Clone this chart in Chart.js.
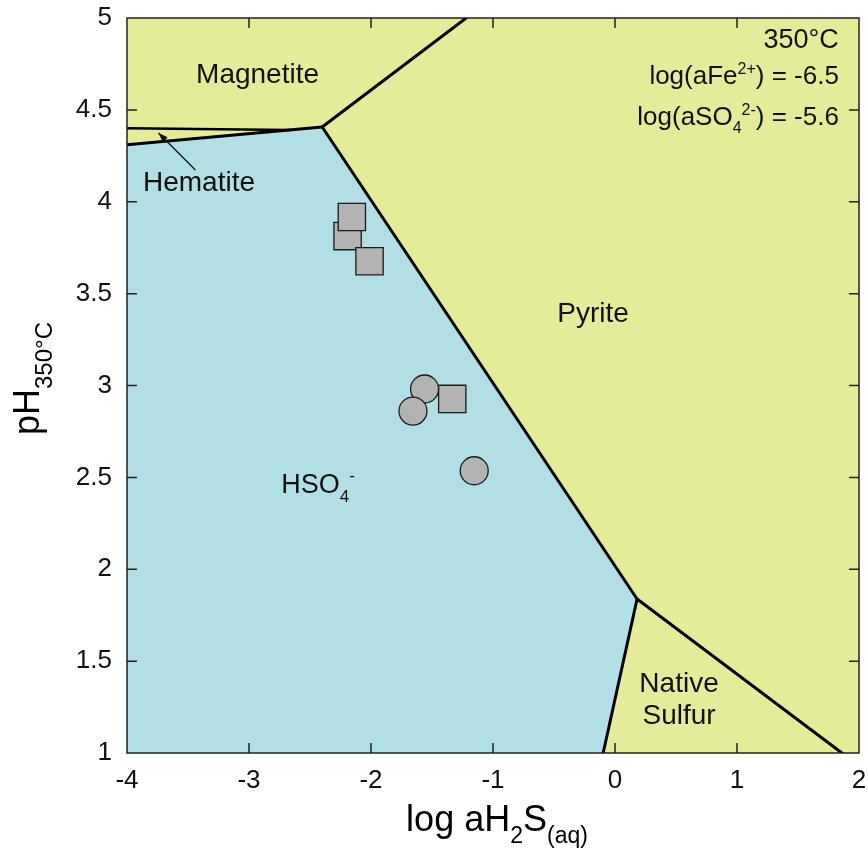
<!DOCTYPE html>
<html>
<head>
<meta charset="utf-8">
<title>Fe-S-O phase diagram, 350°C</title>
<script src="https://cdn.jsdelivr.net/npm/chart.js@4.4.1/dist/chart.umd.min.js"></script>
<style>
  html, body { margin: 0; padding: 0; background: #fff; overflow: hidden; }
  canvas { display: block; }
</style>
</head>
<body>
<canvas id="chart" width="868" height="848"></canvas>
<script>
// axis ranges and ticks
const xTicks = [-4, -3, -2, -1, 0, 1, 2];
const yTicks = [1, 1.5, 2, 2.5, 3, 3.5, 4, 4.5, 5];

// phase boundaries [log aH2S, pH]
const magnetitePyrite   = [[-1.22, 5], [-2.40, 4.407]];
const magnetiteHematite = [[-4, 4.40], [-2.66, 4.391]];
const hematiteHso4      = [[-4, 4.31], [-2.40, 4.407]];
const pyriteHso4        = [[-2.40, 4.407], [0.181, 1.838]];
const sulfurHso4        = [[0.181, 1.838], [-0.097, 1]];
const sulfurPyrite      = [[0.181, 1.838], [1.86, 1]];

// HSO4- stability field
const hso4Field = [[-4, 4.31], [-2.40, 4.407], [0.181, 1.838], [-0.097, 1], [-4, 1]];

// measured fluids
const squareX = [-2.192, -2.157, -2.012, -1.334];
const squareY = [3.813, 3.917, 3.676, 2.927];
const circleX = [-1.561, -1.656, -1.154];
const circleY = [2.981, 2.861, 2.536];

const FONT = '"Liberation Sans", Arial, Helvetica, sans-serif';
const YELLOW = '#e4ec9a';
const BLUE = '#b2dfe6';

const toPts = arr => arr.map(p => ({ x: p[0], y: p[1] }));
const zip = (xs, ys) => xs.map((x, i) => ({ x: x, y: ys[i] }));

function boundary(pts, width) {
  return {
    type: 'line', data: toPts(pts), showLine: true, fill: false,
    borderColor: '#000', borderWidth: width || 3, pointRadius: 0,
    borderCapStyle: 'round', order: 5
  };
}

// draw text made of runs with different sizes / vertical offsets
function drawRuns(ctx, runs, x, y, align) {
  let total = 0;
  runs.forEach(r => {
    ctx.font = r.size + 'px ' + FONT;
    r.w = ctx.measureText(r.t).width;
    total += r.w;
  });
  let cx = align === 'right' ? x - total : align === 'center' ? x - total / 2 : x;
  ctx.textAlign = 'left';
  ctx.textBaseline = 'alphabetic';
  runs.forEach(r => {
    ctx.font = r.size + 'px ' + FONT;
    ctx.fillText(r.t, cx, y + (r.dy || 0));
    cx += r.w;
  });
}

const fieldPlugin = {
  id: 'fields',
  beforeDatasetsDraw(chart) {
    const { ctx, chartArea: a, scales: { x, y } } = chart;
    ctx.save();
    ctx.fillStyle = YELLOW;
    ctx.fillRect(a.left, a.top, a.right - a.left, a.bottom - a.top);
    ctx.beginPath();
    hso4Field.forEach((p, i) => {
      const px = x.getPixelForValue(p[0]), py = y.getPixelForValue(p[1]);
      if (i === 0) ctx.moveTo(px, py); else ctx.lineTo(px, py);
    });
    ctx.closePath();
    ctx.fillStyle = BLUE;
    ctx.fill();
    ctx.restore();
  },
  afterDraw(chart) {
    const { ctx, chartArea: a, scales: { x, y } } = chart;
    const X = v => x.getPixelForValue(v), Y = v => y.getPixelForValue(v);
    ctx.save();

    // frame and inward ticks on all four sides
    ctx.strokeStyle = '#222';
    ctx.lineWidth = 1.5;
    ctx.strokeRect(a.left, a.top, a.right - a.left, a.bottom - a.top);
    ctx.beginPath();
    xTicks.slice(1, -1).forEach(v => {
      ctx.moveTo(X(v), a.bottom); ctx.lineTo(X(v), a.bottom - 10);
      ctx.moveTo(X(v), a.top); ctx.lineTo(X(v), a.top + 10);
    });
    yTicks.slice(1, -1).forEach(v => {
      ctx.moveTo(a.left, Y(v)); ctx.lineTo(a.left + 10, Y(v));
      ctx.moveTo(a.right, Y(v)); ctx.lineTo(a.right - 10, Y(v));
    });
    ctx.stroke();

    // field labels
    ctx.fillStyle = '#111';
    ctx.font = '28px ' + FONT;
    ctx.textAlign = 'center';
    ctx.textBaseline = 'middle';
    ctx.fillText('Magnetite', X(-2.93), Y(4.69));
    ctx.fillText('Hematite', X(-3.41), Y(4.10));
    ctx.fillText('Pyrite', X(-0.18), Y(3.39));
    ctx.fillText('Native', X(0.525), Y(1.376));
    ctx.fillText('Sulfur', X(0.525), Y(1.201));
    drawRuns(ctx, [
      { t: 'HSO', size: 27 },
      { t: '4', size: 17, dy: 9 },
      { t: '-', size: 17, dy: -12 }
    ], X(-2.735), Y(2.415), 'left');

    // arrow to the hematite sliver
    const x0 = X(-3.439), y0 = Y(4.173), x1 = X(-3.742), y1 = Y(4.374);
    ctx.strokeStyle = '#111';
    ctx.lineWidth = 1.3;
    ctx.beginPath(); ctx.moveTo(x0, y0); ctx.lineTo(x1, y1); ctx.stroke();
    const ang = Math.atan2(y1 - y0, x1 - x0);
    ctx.beginPath();
    ctx.moveTo(x1, y1);
    ctx.lineTo(x1 - 10 * Math.cos(ang - 0.35), y1 - 10 * Math.sin(ang - 0.35));
    ctx.lineTo(x1 - 10 * Math.cos(ang + 0.35), y1 - 10 * Math.sin(ang + 0.35));
    ctx.closePath();
    ctx.fill();

    // conditions, top right
    const rx = X(1.835);
    drawRuns(ctx, [{ t: '350°C', size: 27 }], rx, Y(4.837), 'right');
    drawRuns(ctx, [
      { t: 'log(aFe', size: 26 },
      { t: '2+', size: 16, dy: -10 },
      { t: ') = -6.5', size: 26 }
    ], rx, Y(4.641), 'right');
    drawRuns(ctx, [
      { t: 'log(aSO', size: 26 },
      { t: '4', size: 16, dy: 8 },
      { t: '2-', size: 16, dy: -10 },
      { t: ') = -5.6', size: 26 }
    ], rx, Y(4.418), 'right');

    // axis titles
    ctx.fillStyle = '#000';
    drawRuns(ctx, [
      { t: 'log aH', size: 36 },
      { t: '2', size: 23, dy: 12 },
      { t: 'S', size: 36 },
      { t: '(aq)', size: 23, dy: 12 }
    ], (a.left + a.right) / 2 + 4, 831, 'center');

    ctx.translate(39, (a.top + a.bottom) / 2 - 7);
    ctx.rotate(-Math.PI / 2);
    drawRuns(ctx, [
      { t: 'pH', size: 36 },
      { t: '350°C', size: 24, dy: 13 }
    ], 0, 0, 'center');

    ctx.restore();
  }
};

new Chart(document.getElementById('chart'), {
  type: 'scatter',
  data: {
    datasets: [
      {
        label: 'circles', data: zip(circleX, circleY), pointStyle: 'circle',
        pointRadius: 14, backgroundColor: '#b3b3b3', borderColor: '#1a1a1a',
        pointBorderWidth: 1.3, order: 1
      },
      {
        label: 'squares', data: zip(squareX, squareY), pointStyle: 'rect',
        pointRadius: 19.3, backgroundColor: '#b3b3b3', borderColor: '#1a1a1a',
        pointBorderWidth: 1.3, order: 2
      },
      boundary(magnetitePyrite),
      boundary(magnetiteHematite, 2.5),
      boundary(hematiteHso4),
      boundary(pyriteHso4),
      boundary(sulfurHso4),
      boundary(sulfurPyrite)
    ]
  },
  options: {
    responsive: false,
    animation: false,
    devicePixelRatio: 1,
    events: [],
    // big markers would otherwise push the plot area inwards
    layout: { autoPadding: false, padding: { left: 0, right: 9, top: 18, bottom: 0 } },
    plugins: { legend: { display: false }, tooltip: { enabled: false } },
    scales: {
      x: {
        type: 'linear', min: -4, max: 2,
        afterBuildTicks: s => { s.ticks = xTicks.map(v => ({ value: v })); },
        afterFit: s => { s.height = 95; s.paddingLeft = 0; s.paddingRight = 0; },
        grid: { display: false }, border: { display: false },
        ticks: {
          autoSkip: false, maxRotation: 0, padding: 4, color: '#111',
          font: { size: 26, family: FONT }, callback: v => String(v)
        }
      },
      y: {
        type: 'linear', min: 1, max: 5,
        afterBuildTicks: s => { s.ticks = yTicks.map(v => ({ value: v })); },
        afterFit: s => { s.width = 127; s.paddingTop = 0; s.paddingBottom = 0; },
        grid: { display: false }, border: { display: false },
        ticks: {
          autoSkip: false, padding: 7, color: '#111',
          font: { size: 26, family: FONT }, callback: v => String(v)
        }
      }
    }
  },
  plugins: [fieldPlugin]
});
</script>
</body>
</html>
